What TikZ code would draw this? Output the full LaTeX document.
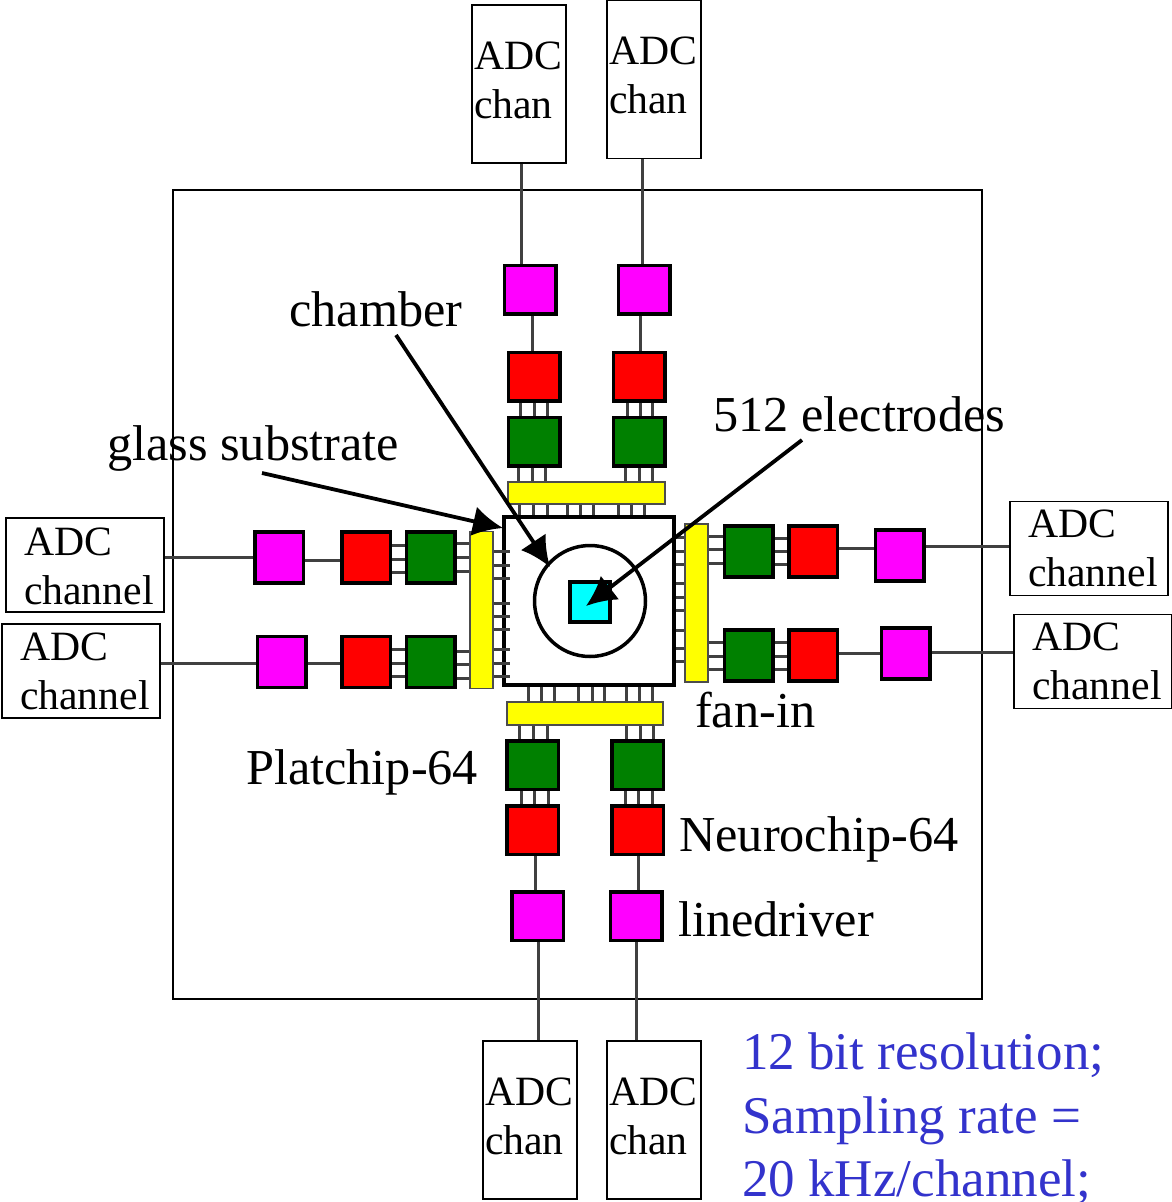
\documentclass[tikz,border=0pt]{standalone}
\usepackage{fontspec}
\setmainfont{Liberation Serif}
\usetikzlibrary{arrows.meta}
\definecolor{chipgreen}{RGB}{0,128,0}
\definecolor{chipred}{RGB}{255,0,0}
\definecolor{chipmagenta}{RGB}{255,0,255}
\definecolor{chipcyan}{RGB}{0,255,255}
\definecolor{chipyellow}{RGB}{255,255,0}
\definecolor{noteblue}{RGB}{51,51,204}
\tikzstyle{chip}=[draw,line width=3.5pt,inner sep=0pt]
\tikzstyle{across}=[minimum width=51.5pt,minimum height=48.5pt]
\tikzstyle{along}=[minimum width=48.5pt,minimum height=51pt]
\tikzstyle{neuro}=[chip,fill=chipgreen]
\tikzstyle{platc}=[chip,fill=chipred]
\tikzstyle{drive}=[chip,fill=chipmagenta]
\tikzstyle{fanin}=[draw=black!70,line width=1.5pt,fill=chipyellow,inner sep=0pt]
\tikzstyle{adc}=[draw,line width=1.6pt,inner sep=0pt,align=left,font=\fontsize{41.7pt}{49pt}\selectfont]
\tikzstyle{adc tall}=[adc,minimum width=94pt,minimum height=158pt,text width=90pt,execute at end node={\rule[-8pt]{0pt}{0pt}}]
\tikzstyle{adc wide}=[adc,minimum width=158pt,minimum height=94pt,text width=122pt]
\tikzstyle{adc low}=[execute at begin node={\rule{0pt}{31pt}}]
\tikzstyle{wire}=[black!75,line width=3pt]
\tikzstyle{label}=[anchor=base west,inner sep=0pt,font=\fontsize{50.3pt}{60pt}\selectfont]
\tikzstyle{pointer}=[line width=3.8pt,-{Latex[length=30pt,width=30pt]}]

\begin{document}
\begin{tikzpicture}[x=1pt,y=-1pt]
    \useasboundingbox (0,0) rectangle (1171,1202);

    % Board
    \draw (577.5,594.5) node[draw,line width=1.8pt,minimum width=809pt,minimum height=809pt] (board) {};

    % ADC channels
    \draw (519,84) node[adc tall] (adcta) {ADC\\chan};
    \draw (654,79.5) node[adc tall] (adctb) {ADC\\chan};
    \draw (530,1120) node[adc tall] (adcba) {ADC\\chan};
    \draw (654,1120) node[adc tall] (adcbb) {ADC\\chan};
    \draw (85,565) node[adc wide,adc low] (adcla) {ADC\\channel};
    \draw (81,671) node[adc wide] (adclb) {ADC\\channel};
    \draw (1089,548.5) node[adc wide] (adcra) {ADC\\channel};
    \draw (1093,661.5) node[adc wide] (adcrb) {ADC\\channel};

    % Top column
    \draw (530,289.5) node[drive,across] (mta) {};
    \draw (644,289.5) node[drive,across] (mtb) {};
    \draw (534,376.5) node[platc,across] (rta) {};
    \draw (639,376.5) node[platc,across] (rtb) {};
    \draw (534,441.5) node[neuro,across] (gta) {};
    \draw (639,441.5) node[neuro,across] (gtb) {};

    % Bottom column
    \draw (532.5,765) node[neuro,across] (gba) {};
    \draw (637.5,765) node[neuro,across] (gbb) {};
    \draw (532.5,830) node[platc,across] (rba) {};
    \draw (637.5,830) node[platc,across] (rbb) {};
    \draw (537.5,916) node[drive,across] (mba) {};
    \draw (636,916) node[drive,across] (mbb) {};

    % Left row
    \draw (279,557.5) node[drive,along] (mla) {};
    \draw (281.5,662) node[drive,along] (mlb) {};
    \draw (366,557.5) node[platc,along] (rla) {};
    \draw (366,662) node[platc,along] (rlb) {};
    \draw (430.5,557.5) node[neuro,along] (gla) {};
    \draw (430.5,662) node[neuro,along] (glb) {};

    % Right row
    \draw (748.5,551.5) node[neuro,along] (gra) {};
    \draw (748.5,655.5) node[neuro,along] (grb) {};
    \draw (813,551.5) node[platc,along] (rra) {};
    \draw (813,655.5) node[platc,along] (rrb) {};
    \draw (899.5,555.5) node[drive,along] (mra) {};
    \draw (905.5,653.5) node[drive,along] (mrb) {};

    % Glass substrate, chamber, electrodes
    \draw (589,601) node[draw,fill=white,line width=4pt,minimum width=170pt,minimum height=168pt] (glass) {};
    \draw (590,601) node[draw,circle,line width=3.5pt,minimum size=111pt] (chamber) {};
    \draw (590,602) node[draw,fill=chipcyan,line width=3.5pt,minimum size=40pt] (array) {};

    % Fan-in
    \draw (586.5,493) node[fanin,minimum width=157pt,minimum height=22pt] (yt) {};
    \draw (585,713.5) node[fanin,minimum width=156pt,minimum height=23pt] (yb) {};
    \draw (481.5,610) node[fanin,minimum width=23pt,minimum height=157pt] (yl) {};
    \draw (696.5,603) node[fanin,minimum width=23pt,minimum height=158pt] (yr) {};

    % Single wires
    \draw[wire] (521,0 |- adcta.south) -- (521,0 |- mta.north);
    \draw[wire] (642,0 |- adctb.south) -- (642,0 |- mtb.north);
    \draw[wire] (532,0 |- mta.south) -- (532,0 |- rta.north);
    \draw[wire] (640,0 |- mtb.south) -- (640,0 |- rtb.north);
    \draw[wire] (535,0 |- rba.south) -- (535,0 |- mba.north);
    \draw[wire] (638,0 |- rbb.south) -- (638,0 |- mbb.north);
    \draw[wire] (538,0 |- mba.south) -- (538,0 |- adcba.north);
    \draw[wire] (636,0 |- mbb.south) -- (636,0 |- adcbb.north);
    \draw[wire] (adcla.east |- 0,557) -- (mla.west |- 0,557);
    \draw[wire] (adclb.east |- 0,663) -- (mlb.west |- 0,663);
    \draw[wire] (mla.east |- 0,560) -- (rla.west |- 0,560);
    \draw[wire] (mlb.east |- 0,663) -- (rlb.west |- 0,663);
    \draw[wire] (rra.east |- 0,548) -- (mra.west |- 0,548);
    \draw[wire] (rrb.east |- 0,653) -- (mrb.west |- 0,653);
    \draw[wire] (mra.east |- 0,546) -- (adcra.west |- 0,546);
    \draw[wire] (mrb.east |- 0,652) -- (adcrb.west |- 0,652);

    % Three line buses
    \foreach \x in {518,532,545,625,639,652} \draw[wire] (\x,0 |- gta.south) -- (\x,0 |- yt.north);
    \foreach \x in {520,534,547,627,640,652} \draw[wire] (\x,0 |- rta.south) -- (\x,0 |- gta.north);
    \foreach \x in {519,533,547,626,640,653} \draw[wire] (\x,0 |- yb.south) -- (\x,0 |- gba.north);
    \foreach \x in {521,534,548,625,638,652} \draw[wire] (\x,0 |- gba.south) -- (\x,0 |- rba.north);
    \foreach \y in {543,557,571,651,664,678} \draw[wire] (gla.east |- 0,\y) -- (yl.west |- 0,\y);
    \foreach \y in {545,559,572,649,663,676} \draw[wire] (rla.east |- 0,\y) -- (gla.west |- 0,\y);
    \foreach \y in {536,549,563,642,656,669} \draw[wire] (yr.east |- 0,\y) -- (gra.west |- 0,\y);
    \foreach \y in {538,551,564,642,656,669} \draw[wire] (gra.east |- 0,\y) -- (rra.west |- 0,\y);

    % Pins on the substrate
    \foreach \x in {519,533,547,567,580,593,618,631,644} \draw[wire] (\x,0 |- yt.south) -- (\x,0 |- glass.north);
    \foreach \x in {528,541,554,578,592,604,626,639,652} \draw[wire] (\x,0 |- glass.south) -- (\x,0 |- yb.north);
    \foreach \y in {551,565,578,603,616,629,649,663,676} \draw[wire] (yl.east |- 0,\y) -- ([xshift=8pt]glass.west |- 0,\y);
    \foreach \y in {537,551,564,583,597,610,630,648,661} \draw[wire] (glass.east |- 0,\y) -- (yr.west |- 0,\y);

    % Labels
    \draw (289,326) node[label] (lchamber) {chamber};
    \draw (107,460) node[label] (lglass) {glass substrate};
    \draw (713,431) node[label] (lelec) {512 electrodes};
    \draw (695,727) node[label] (lfan) {fan-in};
    \draw (246,784) node[label] (lplat) {Platchip-64};
    \draw (679,851) node[label] (lneuro) {Neurochip-64};
    \draw (678,936) node[label] (lline) {linedriver};
    \draw (742,1068) node[label,text=noteblue,font=\fontsize{53pt}{63.5pt}\selectfont,align=left,anchor=north west,yshift=35pt] (lnote) {12 bit resolution;\\Sampling rate =\\20 kHz/channel;};

    % Pointers
    \coordinate (pchamber) at (396,335);
    \coordinate (pglass) at (262,473);
    \coordinate (pelec) at (802,440);
    \coordinate (tchamber) at (550,567);
    \coordinate (tglass) at (503,528);
    \coordinate (telec) at (586,606);
    \draw[pointer] (pchamber) -- (tchamber);
    \draw[pointer] (pglass) -- (tglass);
    \draw[pointer] (pelec) -- (telec);
\end{tikzpicture}
\end{document}
